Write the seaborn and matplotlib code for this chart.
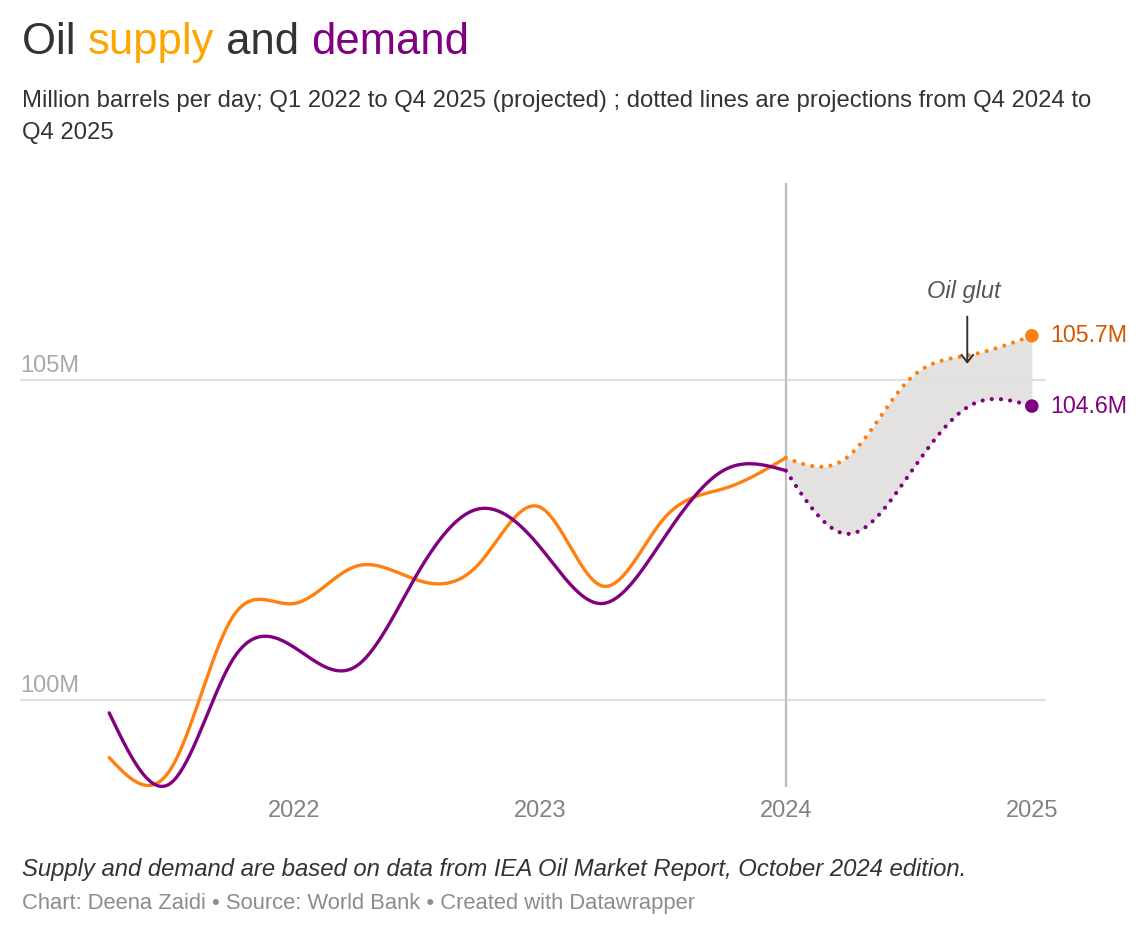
import numpy as np
import pandas as pd
import matplotlib
matplotlib.use("Agg")
import matplotlib.pyplot as plt
import seaborn as sns

sns.set_style("white")
plt.rcParams["font.family"] = ["Liberation Sans", "DejaVu Sans"]

# Data (million barrels per day)
quarters = ["Q1 2022", "Q2 2022", "Q3 2022", "Q4 2022",
            "Q1 2023", "Q2 2023", "Q3 2023", "Q4 2023",
            "Q1 2024", "Q2 2024", "Q3 2024", "Q4 2024",
            "Q1 2025", "Q2 2025", "Q3 2025", "Q4 2025"]
supply = [99.10, 98.92, 101.29, 101.51, 102.09, 101.88, 102.12, 103.02,
          101.79, 102.82, 103.31, 103.79, 103.80, 105.01, 105.40, 105.70]
demand = [99.80, 98.70, 100.62, 100.83, 100.52, 101.96, 102.99, 102.40,
          101.51, 102.51, 103.60, 103.59, 102.60, 103.52, 104.61, 104.60]
proj_start = "Q4 2024"
year_labels = ["2022", "2023", "2024", "2025"]
y_ticks = [100, 105]

ORANGE = "#ff800e"
ORANGE_TXT = "#d25600"
ORANGE_TITLE = "#ffa500"
PURPLE = "#800080"
DARK = "#333333"

W, H = 1148, 938


def fx(x):
    return x / W


def fy(y):
    return 1 - y / H


def curved(x, y, steps=40):
    # natural cubic spline through the points (the "curved" line option)
    x = np.asarray(x, float)
    y = np.asarray(y, float)
    n = len(x)
    h = np.diff(x)
    A = np.zeros((n, n))
    r = np.zeros(n)
    A[0, 0] = A[-1, -1] = 1
    for i in range(1, n - 1):
        A[i, i - 1] = h[i - 1]
        A[i, i] = 2 * (h[i - 1] + h[i])
        A[i, i + 1] = h[i]
        r[i] = 6 * ((y[i + 1] - y[i]) / h[i] - (y[i] - y[i - 1]) / h[i - 1])
    M = np.linalg.solve(A, r)
    out_x, out_y = [], []
    for i in range(n - 1):
        t = np.linspace(0, 1, steps)
        if i > 0:
            t = t[1:]
        xx = x[i] + t * h[i]
        a, b = 1 - t, t
        yy = (a * y[i] + b * y[i + 1]
              + ((a ** 3 - a) * M[i] + (b ** 3 - b) * M[i + 1]) * h[i] ** 2 / 6)
        out_x.append(xx)
        out_y.append(yy)
    return np.concatenate(out_x), np.concatenate(out_y)


df = pd.DataFrame({"quarter": quarters, "supply": supply, "demand": demand})
df["pos"] = np.arange(len(df))
split = df.index[df["quarter"] == proj_start][0]
actual = df.loc[:split]
projected = df.loc[split:]

fig = plt.figure(figsize=(W / 100, H / 100), dpi=100)
ax = fig.add_axes([fx(20), fy(787), fx(1046) - fx(20), fy(183) - fy(787)])

# projection gap
px_s, py_s = curved(projected["pos"], projected["supply"])
_, py_d = curved(projected["pos"], projected["demand"])
ax.fill_between(px_s, py_s, py_d, color="#e3e2e1", lw=0, zorder=1)

for v in y_ticks:
    ax.axhline(v, color="#e0e0e0", lw=1.5, zorder=1.5)
    ax.annotate(f"{v}M", xy=(0, v), xycoords=ax.get_yaxis_transform(),
                xytext=(0, 6), textcoords="offset points", ha="left",
                va="baseline", fontsize=17, color="#a8a8a8")
ax.axvline(split, color="#bdbdbd", lw=1.6, zorder=1.6)

dotted = dict(linestyle=(0, (0.01, 2.2)), dash_capstyle="round", lw=3.0)
for col, color in [("supply", ORANGE), ("demand", PURPLE)]:
    sx, sy = curved(actual["pos"], actual[col])
    sns.lineplot(x=sx, y=sy, ax=ax, color=color, lw=2.4, sort=False,
                 estimator=None, zorder=3, clip_on=False)
    qx, qy = curved(projected["pos"], projected[col])
    sns.lineplot(x=qx, y=qy, ax=ax, color=color, sort=False,
                 estimator=None, zorder=3, clip_on=False, **dotted)

last = df.iloc[-1]
sns.scatterplot(x=[last["pos"]] * 2, y=[last["supply"], last["demand"]],
                hue=["supply", "demand"], palette=[ORANGE, PURPLE],
                s=95, linewidth=0, legend=False, zorder=5, ax=ax)
ax.annotate(f"{last['supply']:.1f}M", xy=(last["pos"], last["supply"]),
            xytext=(13, 0), textcoords="offset points", va="center",
            fontsize=16.7, color=ORANGE_TXT, annotation_clip=False)
ax.annotate(f"{last['demand']:.1f}M", xy=(last["pos"], last["demand"]),
            xytext=(13, 0), textcoords="offset points", va="center",
            fontsize=16.7, color=PURPLE, annotation_clip=False)

# oil glut note
ax.annotate("", xy=(13.95, 105.26), xytext=(13.95, 106.0),
            arrowprops=dict(arrowstyle="->,head_length=0.45,head_width=0.35",
                            color="#333333", lw=1.4, shrinkA=0, shrinkB=0,
                            mutation_scale=12))
ax.text(13.9, 106.39, "Oil glut", ha="center", va="center", fontsize=17,
        style="italic", color="#555555")

tick_pos = df.loc[df["quarter"].str.startswith("Q4"), "pos"]
ax.set_xticks(tick_pos)
ax.set_xticklabels(year_labels)
ax.tick_params(axis="x", length=0, pad=9, labelsize=17, labelcolor="#828282")
ax.set_yticks([])
ax.set_xlim(-1.45, 15.23)
ax.set_ylim(98.64, 108.09)
ax.set_xlabel("")
ax.set_ylabel("")
for s in ax.spines.values():
    s.set_visible(False)

# title with coloured words
t = fig.text(fx(22), fy(54), "Oil ", fontsize=31.4, color=DARK, va="baseline")
for word, color in [("supply", ORANGE_TITLE), (" and ", DARK), ("demand", PURPLE)]:
    t = ax.annotate(word, xy=(1, 0), xycoords=t, va="bottom", ha="left",
                    fontsize=31.4, color=color)

fig.text(fx(22), fy(107), "Million barrels per day; Q1 2022 to Q4 2025 (projected) ; "
         "dotted lines are projections from Q4 2024 to", fontsize=17.2,
         color=DARK, va="baseline")
fig.text(fx(22), fy(139), "Q4 2025", fontsize=17.2, color=DARK, va="baseline")

fig.text(fx(22), fy(876), "Supply and demand are based on data from IEA Oil Market "
         "Report, October 2024 edition.", fontsize=17.2, style="italic",
         color=DARK, va="baseline")
fig.text(fx(22), fy(909), "Chart: Deena Zaidi \u2022 Source: World Bank \u2022 "
         "Created with Datawrapper", fontsize=15.8, color="#8c8c8c",
         va="baseline")

fig.savefig("out.png", dpi=100)
